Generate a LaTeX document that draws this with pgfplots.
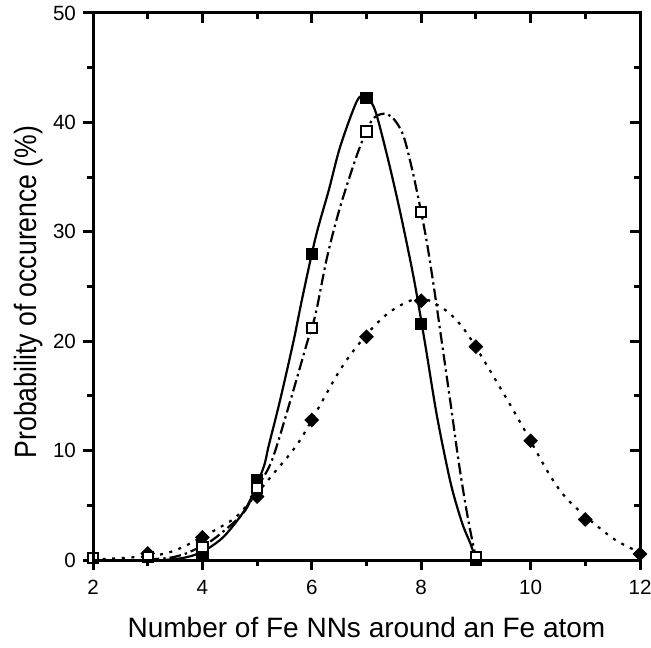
\documentclass[border=0pt]{standalone}
\usepackage{fontspec}
\setmainfont{Liberation Sans}
\usepackage{graphicx}
\usepackage{pgfplots}
\pgfplotsset{compat=1.18}

\begin{document}
\begin{tikzpicture}
\pgfplotsset{
  frame/.style={
    scale only axis,
    width=273.5pt, height=273.5pt,
    xmin=2, xmax=12, ymin=0, ymax=50,
    xtick={2,4,...,12}, ytick={0,10,...,50},
    minor x tick num=1, minor y tick num=1,
    axis line style={line width=1.5pt},
    every tick/.style={black, line width=1.5pt},
    major tick length=5pt, minor tick length=3pt,
  }
}
\begin{axis}[
  frame,
  xtick pos=left, ytick pos=left,
  tick align=outside,
  clip mode=individual,
  /pgf/number format/assume math mode=true,
  ticklabel style={font=\fontsize{10.3}{12}\selectfont},
  xticklabel style={yshift=-1.5pt},
  xlabel={Number of Fe NNs around an Fe atom},
  ylabel={\scalebox{0.95}[1.1]{Probability of occurence (\%)}},
  label style={font=\fontsize{14}{16}\selectfont},
  xlabel style={at={(axis description cs:0.5,0)}, anchor=base, yshift=-38.5pt},
  ylabel style={at={(axis description cs:-0.104,0.49)}, anchor=base},
]

% fitted curves
\addplot[smooth, black, line width=1.1pt] coordinates {
  (3.3,0) (3.6,0.15) (3.85,0.45) (4.11,1.07) (4.39,2.13) (4.69,3.96)
  (4.875,5.5) (5.12,8.5) (5.21,10.4) (5.42,14.6) (5.67,20.1) (5.82,23.8)
  (6.07,29.5) (6.31,33.8) (6.52,37.8) (6.82,41.9) (6.97,42.4) (7.15,41.2)
  (7.38,36.9) (7.62,31.7) (7.87,25.6) (8.08,19.5) (8.29,13.1) (8.54,7.0)
  (8.75,3.35) (8.9,1.5) (9.0,0)
};
\addplot[smooth, black, line width=1.1pt,
  dash pattern=on 5.8pt off 2pt on 1.2pt off 2pt] coordinates {
  (3.0,0.05) (3.4,0.2) (3.7,0.6) (4.08,1.5) (4.33,2.4) (4.75,4.3)
  (5.0,6.6) (5.27,9.1) (5.61,14.6) (5.91,19.8) (6.07,22.5) (6.28,27.7)
  (6.52,32.3) (6.86,37.5) (7.1,40.2) (7.32,40.8) (7.5,40.3) (7.68,38.7)
  (7.87,34.9) (8.08,29.7) (8.23,25.0) (8.38,19.8) (8.54,14.2) (8.69,8.8)
  (8.84,4.2) (8.97,0.9) (9.02,0)
};
\addplot[smooth, black, line width=1.1pt,
  dash pattern=on 1.5pt off 3.3pt] coordinates {
  (2,0.05) (2.6,0.2) (3.23,0.5) (3.65,1.2) (4.36,3.1) (4.69,4.3)
  (5.3,7.9) (5.79,11.0) (6.52,17.4) (7.0,20.6) (7.38,22.5) (7.75,23.6)
  (8.05,23.9) (8.48,22.7) (8.84,20.7) (9.39,16.2) (9.82,12.5) (10.37,7.6)
  (10.74,5.2) (11.47,2.1) (11.96,0.77) (12,0.7)
};

% data points
\addplot[only marks, mark=square*, mark size=2.4pt,
  mark options={rotate=45, fill=black, draw=black}] coordinates {
  (3,0.6) (4,2.07) (5,5.8) (6,12.8) (7,20.4) (8,23.7)
  (9,19.5) (10,10.9) (11,3.7) (12,0.55)
};
\addplot[only marks, mark=square*, mark size=2.8pt,
  mark options={fill=black, draw=black, line width=0.5pt}] coordinates {
  (4,0.6) (5,7.3) (6,28.0) (7,42.2) (8,21.6) (9,0)
};
\addplot[only marks, mark=square*, mark size=2.6pt,
  mark options={fill=white, draw=black, line width=1pt}] coordinates {
  (2,0.2) (3,0.25) (4,1.2) (5,6.6) (6,21.2) (7,39.15) (8,31.8) (9,0.3)
};
\end{axis}

% mirrored ticks pointing inwards on top and right
\begin{axis}[
  frame,
  xtick pos=right, ytick pos=right,
  tick align=inside,
  xticklabels={}, yticklabels={},
]
\end{axis}

\pgfresetboundingbox
\path[use as bounding box] (-46.5pt,-43.5pt) rectangle (279pt,280pt);
\end{tikzpicture}
\end{document}
